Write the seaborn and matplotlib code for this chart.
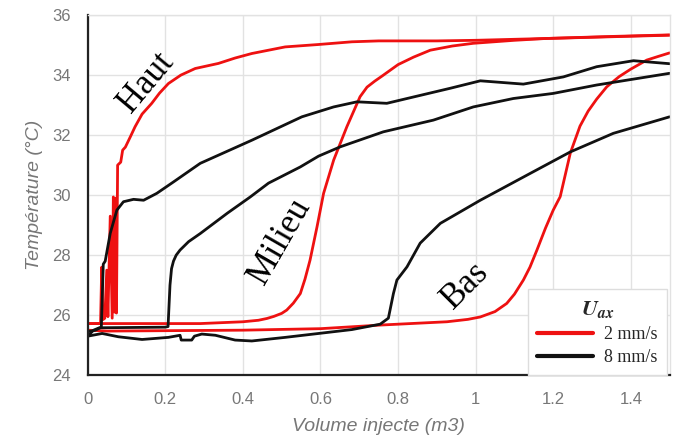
import numpy as np
import pandas as pd
import matplotlib
matplotlib.use("Agg")
import matplotlib.pyplot as plt
from matplotlib.lines import Line2D
from matplotlib.ticker import MultipleLocator
import seaborn as sns

# ---- data ----
haut_2_x = [0, 0.033, 0.036, 0.039, 0.044, 0.049, 0.052, 0.058, 0.063, 0.066, 0.069, 0.072, 0.074,
            0.077, 0.085, 0.09, 0.097, 0.11, 0.122, 0.14, 0.165, 0.185, 0.208, 0.24, 0.277, 0.337,
            0.38, 0.423, 0.509, 0.595, 0.681, 0.75, 0.9, 1.0, 1.18, 1.355, 1.5]
haut_2_y = [25.72, 25.72, 27.6, 25.85, 25.9, 27.5, 25.95, 29.3, 25.9, 29.94, 26.1, 29.9, 26.07,
            31.0, 31.1, 31.5, 31.6, 31.95, 32.28, 32.7, 33.06, 33.4, 33.72, 34.0, 34.22, 34.39,
            34.57, 34.72, 34.94, 35.02, 35.11, 35.14, 35.14, 35.16, 35.22, 35.28, 35.33]

milieu_2_x = [0, 0.29, 0.4, 0.44, 0.462, 0.48, 0.5, 0.513, 0.53, 0.548, 0.56, 0.573, 0.591, 0.608,
              0.634, 0.668, 0.702, 0.72, 0.74, 0.76, 0.80, 0.84, 0.883, 0.94, 0.994, 1.1, 1.18,
              1.355, 1.5]
milieu_2_y = [25.72, 25.72, 25.78, 25.83, 25.89, 25.96, 26.06, 26.17, 26.4, 26.72, 27.2, 27.83,
              28.94, 30.06, 31.17, 32.28, 33.28, 33.6, 33.8, 33.98, 34.35, 34.6, 34.83, 34.97,
              35.06, 35.16, 35.22, 35.29, 35.34]

bas_2_x = [0, 0.05, 0.4, 0.6, 0.754, 0.926, 0.98, 1.012, 1.05, 1.08, 1.1, 1.123, 1.14, 1.158, 1.18,
           1.2, 1.218, 1.244, 1.269, 1.29, 1.312, 1.338, 1.37, 1.4, 1.441, 1.47, 1.5]
bas_2_y = [25.5, 25.47, 25.5, 25.55, 25.67, 25.78, 25.86, 25.94, 26.12, 26.39, 26.7, 27.17, 27.6,
           28.17, 28.9, 29.5, 29.95, 31.4, 32.3, 32.8, 33.2, 33.61, 33.95, 34.2, 34.5, 34.62, 34.74]

haut_8_x = [0, 0.02, 0.035, 0.04, 0.045, 0.058, 0.075, 0.092, 0.118, 0.144, 0.178, 0.221, 0.29,
            0.423, 0.552, 0.634, 0.694, 0.771, 0.823, 0.934, 1.012, 1.123, 1.226, 1.312, 1.407, 1.5]
haut_8_y = [25.45, 25.5, 25.6, 27.7, 27.8, 28.73, 29.5, 29.78, 29.86, 29.83, 30.06, 30.44, 31.06,
            31.83, 32.61, 32.94, 33.11, 33.06, 33.22, 33.56, 33.81, 33.7, 33.94, 34.28, 34.48, 34.38]

milieu_8_x = [0, 0.015, 0.03, 0.2, 0.207, 0.212, 0.216, 0.221, 0.228, 0.238, 0.26, 0.29, 0.36,
              0.419, 0.466, 0.548, 0.595, 0.651, 0.762, 0.891, 0.994, 1.097, 1.2, 1.312, 1.5]
milieu_8_y = [25.3, 25.5, 25.58, 25.6, 25.62, 27.0, 27.55, 27.8, 28.0, 28.17, 28.45, 28.72, 29.4,
              29.94, 30.4, 30.94, 31.3, 31.61, 32.11, 32.5, 32.94, 33.22, 33.39, 33.67, 34.06]

bas_8_x = [0, 0.037, 0.079, 0.14, 0.208, 0.238, 0.241, 0.268, 0.275, 0.294, 0.329, 0.38, 0.423,
           0.509, 0.595, 0.681, 0.754, 0.775, 0.788, 0.797, 0.823, 0.857, 0.909, 1.012, 1.14,
           1.244, 1.355, 1.5]
bas_8_y = [25.3, 25.39, 25.28, 25.19, 25.26, 25.33, 25.17, 25.17, 25.3, 25.37, 25.33, 25.17, 25.14,
           25.26, 25.39, 25.52, 25.7, 25.9, 26.72, 27.17, 27.61, 28.4, 29.06, 29.83, 30.72,
           31.44, 32.06, 32.61]

speed_labels = ["2 mm/s", "8 mm/s"]
speed_colors = ["#ee1111", "#111111"]
x_ticks = [0, 0.2, 0.4, 0.6, 0.8, 1, 1.2, 1.4]
x_tick_labels = ["0", "0.2", "0.4", "0.6", "0.8", "1", "1.2", "1.4"]
y_ticks = [24, 26, 28, 30, 32, 34, 36]
zone_labels = ["Haut", "Milieu", "Bas"]
zone_pos = [(0.152, 33.75, 50), (0.496, 28.45, 60), (0.973, 27.0, 45)]

# ---- style ----
sns.set_style("white")
plt.rcParams["font.family"] = ["Liberation Sans", "DejaVu Sans"]
plt.rcParams["mathtext.fontset"] = "stix"

fig = plt.figure(figsize=(6.75, 4.44), dpi=100)
ax = fig.add_axes([0.13, 0.155, 0.862, 0.811])

series = [
    (haut_2_x, haut_2_y, 0), (milieu_2_x, milieu_2_y, 0), (bas_2_x, bas_2_y, 0),
    (haut_8_x, haut_8_y, 1), (milieu_8_x, milieu_8_y, 1), (bas_8_x, bas_8_y, 1),
]
for xs, ys, k in series:
    df = pd.DataFrame({"x": xs, "y": ys})
    sns.lineplot(data=df, x="x", y="y", sort=False, estimator=None, color=speed_colors[k],
                 linewidth=2.0, ax=ax, legend=False, solid_joinstyle="round",
                 solid_capstyle="round")

ax.set_xlim(0, 1.5)
ax.set_ylim(24, 36)
ax.set_xticks(x_ticks)
ax.set_xticklabels(x_tick_labels)
ax.set_yticks(y_ticks)
ax.xaxis.set_minor_locator(MultipleLocator(0.04))
ax.yaxis.set_minor_locator(MultipleLocator(0.4))
ax.grid(True, which="major", color="#e2e2e2", linewidth=1.0)
ax.set_axisbelow(True)

for s in ["top", "right"]:
    ax.spines[s].set_color("#e2e2e2")
    ax.spines[s].set_linewidth(1.0)
for s in ["left", "bottom"]:
    ax.spines[s].set_color("#222222")
    ax.spines[s].set_linewidth(1.6)

ax.tick_params(axis="both", which="major", direction="out", length=7, width=1.4,
               color="#222222", labelsize=12, labelcolor="#777777", pad=5)
ax.tick_params(axis="both", which="minor", direction="out", length=4, width=1.2,
               color="#222222")

ax.set_xlabel("Volume injecte (m3)", fontsize=14, color="#777777", style="italic", labelpad=8)
ax.set_ylabel("Température (°C)", fontsize=14, color="#777777", style="italic", labelpad=7)

for lab, (tx, ty, rot) in zip(zone_labels, zone_pos):
    ax.text(tx, ty, lab, family="Liberation Serif", fontsize=25, rotation=rot,
            ha="center", va="center", rotation_mode="anchor", color="black")

handles = [Line2D([0], [0], color=c, linewidth=3) for c in speed_colors]
leg = ax.legend(handles, speed_labels, title=r"$\mathbfit{U_{ax}}$", loc="lower right",
                bbox_to_anchor=(0.995, 0.0), borderaxespad=0.0, frameon=True, fancybox=False,
                framealpha=1, edgecolor="#dddddd", handlelength=3.1,
                prop={"family": "Liberation Serif", "size": 13}, title_fontsize=16,
                borderpad=0.5, labelspacing=0.35, handletextpad=0.6)
leg.get_frame().set_linewidth(1.0)

fig.savefig("out.png", dpi=100)
